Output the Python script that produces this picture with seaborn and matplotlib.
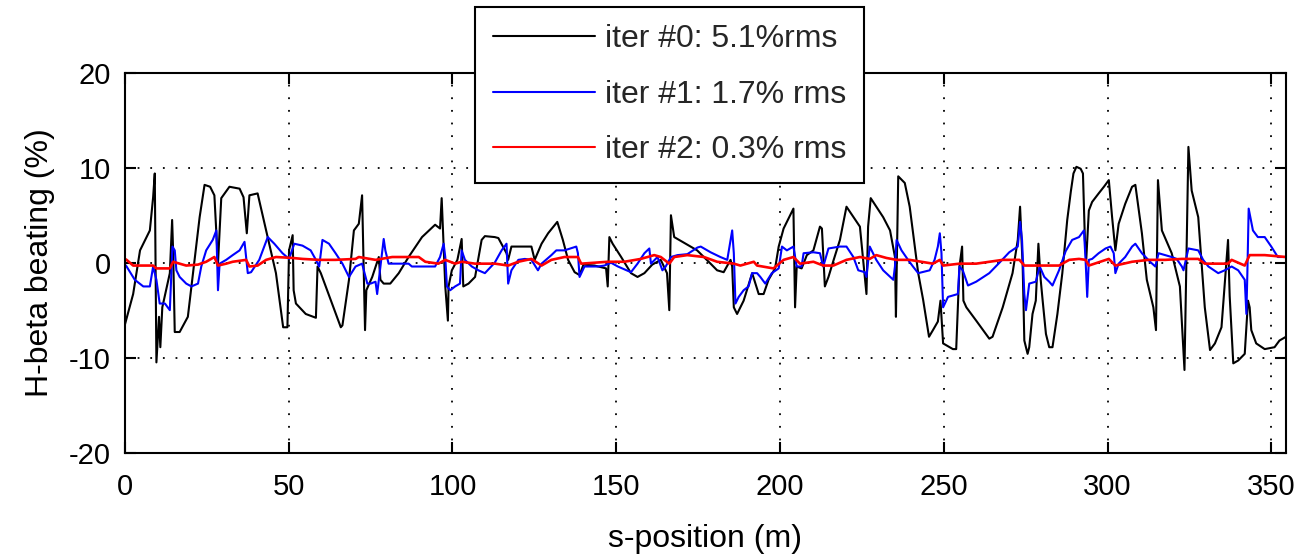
import numpy as np
import pandas as pd
import matplotlib
matplotlib.use("Agg")
import matplotlib.pyplot as plt
import seaborn as sns

# ---- H-beta beating along the ring, per correction iteration ----
s_iter0 = [0, 2.5, 4.6, 7.6, 8.6, 9.1, 9.6, 10.4, 10.8, 11.4, 13.7, 14.4, 14.7, 15.2, 16.7, 19.2,
           22.8, 24.3, 26.0, 27.3, 28.4, 29.4, 31.9, 35.0, 36.2, 37.2, 38.0, 40.5, 43.1, 46.1, 48.3,
           49.6, 50.1, 51.2, 51.5, 52.2, 55.2, 58.3, 58.8, 59.8, 65.9, 66.4, 68.4, 69.9, 71.4, 72.4,
           73.3, 73.7, 75.5, 77.5, 78.0, 79.0, 81.0, 83.6, 86.6, 90.7, 94.7, 96.2, 96.7, 97.8, 98.6,
           98.8, 99.8, 101.5, 102.8, 103.3, 104.9, 106.9, 108.9, 109.9, 112.9, 114.0, 116.5, 117.0,
           118.0, 124.1, 125.1, 127.2, 129.2, 132.0, 133.7, 135.3, 137.3, 138.8, 140.0, 143.4, 146.9,
           147.4, 147.9, 148.9, 151.5, 154.5, 156.5, 158.6, 161.0, 163.6, 165.5, 166.2, 166.7, 167.7,
           169.2, 171.7, 174.7, 178.8, 180.8, 182.8, 184.9, 185.4, 185.9, 186.9, 188.9, 191.5, 192.5,
           193.5, 195.0, 196.5, 198.5, 199.6, 201.1, 204.1, 204.6, 205.1, 206.6, 208.2, 210.2, 212.2,
           212.8, 213.7, 214.8, 216.3, 218.3, 220.3, 224.4, 226.4, 226.9, 227.7, 229.4, 231.5, 233.6,
           235.1, 235.4, 236.1, 238.1, 239.6, 242.2, 243.7, 245.5, 246.7, 248.2, 249.0, 249.8, 251.3,
           252.8, 253.8, 254.8, 255.6, 256.0, 256.9, 259.9, 263.9, 264.9, 268.0, 271.0, 272.6, 273.3,
           274.1, 274.6, 275.6, 276.1, 277.1, 278.1, 278.9, 279.6, 280.2, 281.2, 282.2, 283.2, 284.7,
           286.2, 287.7, 288.8, 289.6, 290.5, 291.8, 292.5, 293.1, 293.5, 294.3, 295.3, 297.3, 298.9,
           300.4, 301.4, 302.4, 303.4, 305.4, 307.5, 308.5, 310.5, 312.0, 314.0, 314.8, 315.4, 316.6,
           319.6, 322.1, 323.5, 324.7, 325.7, 327.7, 329.7, 331.3, 332.8, 334.8, 336.8, 337.3, 338.4,
           339.9, 341.9, 342.9, 343.4, 343.9, 345.4, 348.0, 351.0, 352.5, 354.5]
beat_iter0 = [-6.5, -3.3, 1.3, 3.4, 6.9, 9.4, -10.5, -5.7, -8.9, -4.7, -1.1, 4.5, 1.3, -7.3, -7.3, -5.7,
              4.8, 8.2, 8.0, 7.1, -0.1, 6.8, 8.0, 7.8, 6.9, 3.1, 7.1, 7.3, 3.4, -1.1, -6.8,
              -6.8, 1.3, 2.9, -2.9, -4.3, -5.4, -5.8, -0.4, -1.1, -6.8, -6.6, -1.8, 3.4, 4.1, 7.1,
              -7.1, -2.9, -1.5, 0.6, -1.8, -2.2, -2.2, -1.1, 0.6, 2.7, 4.0, 3.6, 6.8, -2.5, -6.1,
              -2.5, -0.8, 0.3, 2.5, -2.5, -2.2, -1.5, 2.4, 2.8, 2.7, 2.6, 1.0, 0.3,
              1.7, 1.7, 0.3, 2.0, 3.1, 4.3, 2.4, 0.3, -1.0, -1.3, -0.2, -0.3, -0.6,
              -2.5, 2.7, 2.0, 0.6, -1.1, -1.5, -1.1, -0.2, 0.3, -1.1, -5.0, 5.0, 2.7,
              2.4, 1.9, 1.3, -0.1, -0.8, -1.0, 0.3, -0.4, -4.7, -5.4, -4.0, -1.1, -2.2,
              -3.3, -3.3, -1.8, -0.6, 1.7, 3.6, 5.7, -4.7, -0.4, -0.6, 0.8, 1.3, 3.8,
              3.6, -2.5, -1.5, 0.2, 2.4, 5.9, 3.8, -3.3, 3.8, 6.8, 5.9, 4.8, 3.4,
              0.6, -5.7, 9.1, 8.4, 5.9, -1.1, -3.9, -7.8, -7.1, -6.2, -4.0, -8.5, -8.8,
              -9.1, -9.1, -0.4, 1.7, -4.0, -4.7, -6.1, -8.0, -7.8, -4.7, -1.1, 2.4, 5.9,
              -0.4, -8.2, -9.6, -8.9, -5.4, -4.0, 2.0, -1.8, -4.0, -7.5, -8.9, -8.9, -5.4,
              -1.1, 4.5, 7.5, 9.4, 10.1, 9.9, 9.4, 2.4, 0.3, 5.5, 6.4, 7.3, 8.0,
              8.7, 4.8, 1.3, 4.1, 6.2, 8.0, 8.2, 3.1, -1.8, -4.7, -7.1, 8.7, 3.4,
              1.0, -2.5, -11.3, 12.2, 7.6, 4.8, -4.7, -9.2, -8.5, -6.8, 2.4, -3.5, -10.6,
              -10.3, -9.6, -4.0, -4.7, -7.1, -8.5, -9.1, -8.9, -8.2, -7.8]

s_iter1 = [0, 0.5, 3.0, 5.6, 7.6, 8.6, 9.6, 10.6, 12.2, 13.7, 14.5, 15.2, 15.7, 16.7, 18.7, 20.3,
           22.3, 23.3, 24.8, 26.8, 27.9, 28.4, 28.9, 30.9, 32.9, 35.0, 36.5, 37.5, 38.5, 41.0, 43.6,
           45.6, 48.1, 50.1, 51.7, 54.2, 56.7, 58.3, 59.3, 60.3, 62.3, 64.3, 66.4, 68.4, 70.4, 72.4,
           74.0, 75.0, 76.5, 77.0, 78.0, 79.0, 79.5, 80.5, 86.6, 87.6, 94.7, 96.2, 97.3, 97.8, 98.3,
           99.3, 100.8, 102.3, 102.8, 103.8, 105.9, 107.9, 109.9, 112.9, 115.0, 116.5, 117.0, 118.0,
           120.1, 122.1, 124.1, 126.1, 127.2, 130.2, 131.7, 134.2, 137.8, 138.3, 138.8, 140.3, 144.4,
           146.4, 148.4, 150.5, 154.5, 156.5, 158.6, 160.1, 160.6, 162.6, 164.1, 165.1, 166.7, 168.7,
           171.7, 174.8, 175.8, 178.8, 181.8, 183.9, 185.4, 185.9, 186.4, 187.4, 188.9, 190.4, 191.5,
           193.0, 194.0, 195.5, 197.5, 199.6, 200.6, 202.1, 204.1, 205.1, 206.6, 207.2, 210.2, 212.2,
           213.2, 214.8, 218.3, 220.3, 222.4, 223.9, 225.9, 226.4, 227.4, 229.4, 231.5, 234.6, 235.1,
           235.6, 237.1, 239.1, 240.6, 242.2, 245.7, 247.2, 248.2, 248.8, 249.3, 249.8, 251.3, 253.3,
           254.3, 254.8, 255.8, 257.4, 259.9, 263.9, 267.0, 270.0, 272.6, 273.3, 273.9, 274.6, 275.1,
           276.1, 278.1, 279.3, 280.7, 282.2, 283.2, 285.2, 287.2, 289.2, 291.3, 292.8, 293.3, 293.8,
           294.3, 295.3, 297.3, 299.4, 300.9, 301.9, 302.4, 303.4, 305.4, 307.5, 308.5, 310.5, 313.0,
           314.6, 315.6, 317.6, 319.6, 321.1, 322.7, 323.2, 324.7, 327.7, 329.2, 330.8, 333.8, 335.8,
           337.9, 339.9, 341.9, 342.4, 342.7, 343.1, 344.4, 345.9, 348.0, 350.0, 352.0, 354.5]
beat_iter1 = [-0.2, -0.4, -1.8, -2.5, -2.5, -0.4, -1.8, -4.3, -4.3, -5.0, 1.7, 1.3, -0.8, -1.5, -2.2, -2.5,
              -2.2, -0.4, 1.3, 2.4, 3.4, -2.9, -0.1, 0.3, 0.8, 1.3, 2.2, -1.1, -1.0, 0.3, 2.7,
              2.0, 1.0, 0.4, 2.0, 1.8, 1.3, 0.3, -0.4, 2.4, 2.0, 1.0, -0.1, -1.5, -0.4, -0.1,
              -2.2, -2.2, -2.0, -3.3, -0.4, 2.5, 1.3, -0.1, -0.1, -0.4, -0.4, 0.6, 2.0, 0.6, -2.5,
              -2.9, -2.5, -2.2, 1.3, 0.3, -0.4, -0.8, -1.1, 0.0, 1.3, 2.0, -2.2, -0.8,
              0.3, 0.4, 0.3, -0.8, -0.1, 0.8, 1.3, 1.3, 1.7, 1.0, -1.5, -0.4, -0.4,
              -0.3, 0.0, -0.4, -1.0, -0.1, 1.0, 1.5, -0.1, 0.6, -0.8, -0.4, 0.6, 0.8,
              0.9, 1.6, 1.7, 1.1, 0.6, 0.3, 3.4, 1.0, -4.3, -3.6, -2.9, -2.5, -1.1,
              -1.1, -1.5, -2.2, -1.1, -0.6, 1.7, 1.3, 1.7, -0.4, -0.4, 1.0, 1.1, 1.0,
              -0.4, 1.5, 1.7, 1.7, 0.6, -0.8, -1.0, -1.5, 1.7, 0.3, -0.8, -1.8, -0.4,
              2.4, 1.3, 0.3, -0.4, -1.1, -0.8, 0.3, 1.7, 3.1, 1.0, -4.7, -3.6, -3.4,
              -3.3, -0.4, -0.8, -2.4, -2.0, -1.1, 0.0, 1.1, 1.7, 4.3, 2.4, -3.3, -5.0,
              -2.2, -2.0, -0.4, -1.5, -2.0, -2.4, -0.8, 1.2, 2.4, 2.7, 3.4, 0.3, -3.6,
              0.3, 0.4, 1.0, 1.5, 1.7, 1.0, -1.1, -0.1, 0.6, 1.7, 2.0, 1.0, 0.1,
              -0.4, 1.0, 0.8, 0.6, 0.4, -0.4, -0.8, 1.5, 1.3, 0.3, -0.4, -1.1, -0.8,
              -0.4, -0.8, -1.8, -5.4, -1.1, 5.7, 3.4, 2.7, 2.7, 1.7, 0.6, 0.6]

s_iter2 = [0, 0.5, 2.5, 8.6, 9.6, 13.7, 14.7, 18.7, 22.3, 24.8, 27.3, 28.4, 30.9, 32.9, 37.0, 38.0,
           40.5, 43.1, 46.1, 51.2, 54.2, 59.3, 62.3, 64.3, 70.4, 71.4, 76.5, 81.6, 89.7, 91.7, 95.7,
           97.8, 100.8, 102.8, 106.9, 113.0, 117.0, 120.1, 124.1, 127.2, 130.2, 134.2, 138.3, 139.3,
           147.4, 152.5, 157.5, 161.6, 163.6, 166.2, 167.7, 171.7, 176.8, 180.8, 185.9, 187.9, 192.0,
           193.0, 198.0, 201.1, 204.1, 206.1, 210.2, 213.2, 216.3, 220.3, 224.4, 227.4, 229.4, 232.5,
           235.6, 239.6, 246.7, 248.8, 249.8, 254.8, 259.9, 268.0, 273.1, 274.6, 280.2, 285.2, 288.3,
           291.3, 293.3, 294.3, 300.4, 302.4, 307.5, 312.5, 317.6, 322.7, 327.7, 329.7, 336.8, 337.9,
           341.9, 343.4, 348.0, 354.5]
beat_iter2 = [0.4, 0.3, -0.3, -0.3, -0.6, -0.6, 0.1, -0.3, -0.2, 0.1, 0.6, -0.3, -0.1, 0.1, 0.3, -0.4,
              -0.3, 0.3, 0.6, 0.5, 0.4, 0.3, 0.3, 0.3, 0.4, 0.6, 0.3, 0.6, 0.6, 0.1, -0.1,
              0.3, -0.1, 0.1, -0.1, -0.1, -0.3, 0.1, 0.4, -0.3, 0.3, 0.6, 0.6, -0.1,
              0.1, 0.1, 0.4, 0.8, 0.6, -0.1, 0.6, 0.8, 0.6, 0.1, -0.1, -0.3, 0.1,
              -0.3, -0.6, 0.3, 0.6, -0.1, 0.1, -0.3, -0.3, 0.3, 0.6, 0.4, 0.8, 0.5,
              0.3, 0.3, -0.1, 0.3, -0.3, -0.1, -0.1, 0.3, 0.3, -0.3, -0.3, -0.3, 0.3,
              0.4, 0.3, -0.3, 0.4, -0.3, 0.1, 0.3, 0.3, 0.4, 0.4, -0.1, -0.1, 0.3,
              -0.3, 0.8, 0.8, 0.6]

series_labels = ["iter #0: 5.1%rms", "iter #1: 1.7% rms", "iter #2: 0.3% rms"]
series_colors = ["black", "blue", "red"]
x_ticks = [0, 50, 100, 150, 200, 250, 300, 350]
y_ticks = [-20, -10, 0, 10, 20]

sns.set_theme(style="ticks")
plt.rcParams["font.family"] = ["Liberation Sans", "DejaVu Sans"]
plt.rcParams["axes.unicode_minus"] = False

fig = plt.figure(figsize=(12.99, 5.56), dpi=100)
ax = fig.add_axes([0.0962, 0.186, 0.8938, 0.683])

frames = [
    pd.DataFrame({"s": s_iter0, "beat": beat_iter0}),
    pd.DataFrame({"s": s_iter1, "beat": beat_iter1}),
    pd.DataFrame({"s": s_iter2, "beat": beat_iter2}),
]
widths = [1.5, 1.5, 1.9]
for df, lab, col, lw in zip(frames, series_labels, series_colors, widths):
    sns.lineplot(data=df, x="s", y="beat", color=col, label=lab, sort=False,
                 estimator=None, linewidth=lw, ax=ax)

ax.set_xlim(0, 354.5)
ax.set_ylim(-20, 20)
ax.set_xticks(x_ticks)
ax.set_yticks(y_ticks)
ax.set_xlabel("s-position (m)", fontsize=23, labelpad=16, color="black")
ax.set_ylabel("H-beta beating (%)", fontsize=23, labelpad=10, color="black")

ax.grid(True, color="black", linestyle=(0, (1, 6)), linewidth=1.3)
ax.tick_params(direction="in", length=8, width=1.5, top=True, right=True,
               labelsize=21, colors="black")
ax.tick_params(axis="x", pad=15)
ax.tick_params(axis="y", pad=10)
for sp in ax.spines.values():
    sp.set_visible(True)
    sp.set_color("black")
    sp.set_linewidth(1.5)

leg = ax.legend(loc="upper center", bbox_to_anchor=(0.4690, 1.174), fontsize=23,
                frameon=True, fancybox=False, framealpha=1, edgecolor="black",
                handlelength=3.2, handletextpad=0.3, borderpad=0.55, labelspacing=0.8,
                borderaxespad=0)
leg.get_frame().set_linewidth(1.5)
for line in leg.get_lines():
    line.set_linewidth(1.5)

fig.savefig("out.png", dpi=100)
